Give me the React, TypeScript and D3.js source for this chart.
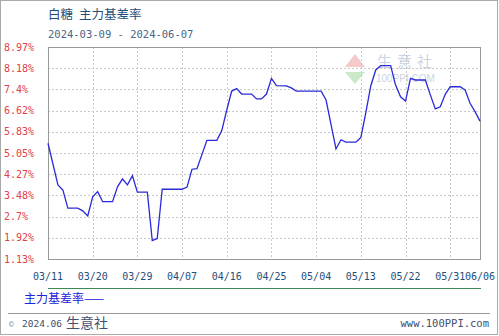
import React from "react";
import * as d3 from "d3";

const dates: string[] = [
  "2024-03-11","2024-03-13","2024-03-14","2024-03-15","2024-03-17","2024-03-18","2024-03-19",
  "2024-03-20","2024-03-21","2024-03-22","2024-03-24","2024-03-25","2024-03-26","2024-03-27",
  "2024-03-28","2024-03-29","2024-03-31","2024-04-01","2024-04-02","2024-04-03","2024-04-07",
  "2024-04-08","2024-04-09","2024-04-10","2024-04-12","2024-04-14","2024-04-15","2024-04-16",
  "2024-04-17","2024-04-18","2024-04-19","2024-04-21","2024-04-22","2024-04-23","2024-04-24",
  "2024-04-25","2024-04-26","2024-04-28","2024-04-29","2024-04-30","2024-05-05","2024-05-06",
  "2024-05-07","2024-05-08","2024-05-09","2024-05-10","2024-05-12","2024-05-13","2024-05-14",
  "2024-05-15","2024-05-16","2024-05-17","2024-05-19","2024-05-20","2024-05-21","2024-05-22",
  "2024-05-23","2024-05-24","2024-05-26","2024-05-27","2024-05-28","2024-05-29","2024-05-30",
  "2024-05-31","2024-06-02","2024-06-03","2024-06-04","2024-06-05","2024-06-06",
];
const values: number[] = [
  5.41,3.87,3.68,3.01,3.01,2.91,2.72,
  3.43,3.62,3.25,3.25,3.80,4.09,3.87,
  4.21,3.60,3.60,1.81,1.89,3.71,3.71,
  3.79,4.45,4.47,5.52,5.52,5.88,6.64,
  7.34,7.43,7.23,7.23,7.05,7.05,7.23,
  7.81,7.54,7.53,7.46,7.34,7.34,7.01,
  6.10,5.20,5.54,5.45,5.45,5.62,6.53,
  7.53,8.12,8.28,8.28,7.56,7.13,6.97,
  7.81,7.75,7.75,7.20,6.68,6.76,7.22,
  7.50,7.50,7.38,6.89,6.58,6.23,
];
const yTicks: number[] = [8.97, 8.18, 7.4, 6.62, 5.83, 5.05, 4.27, 3.48, 2.7, 1.92, 1.13];
const xTickLabels: string[] = ["03/11","03/20","03/29","04/07","04/16","04/25","05/04","05/13","05/22","05/31","06/06"];

const W = 499, H = 336;
const L = 48, R = 480, T = 47, B = 259;
const parse = d3.timeParse("%Y-%m-%d");

export default function App() {
  const data = dates.map((d, i) => ({ date: parse(d) as Date, v: values[i] }));
  const x = d3.scaleTime()
    .domain([parse("2024-03-11") as Date, parse("2024-06-06") as Date])
    .range([L, R]);
  const y = d3.scaleLinear().domain([1.13, 8.97]).range([B, T]);
  const line = d3.line<{ date: Date; v: number }>()
    .x(d => x(d.date))
    .y(d => y(d.v));
  const xTicks = xTickLabels.map(s => parse("2024-" + s.replace("/", "-")) as Date);
  const mono = "'DejaVu Sans Mono', monospace";
  const cjk = "'Noto Sans CJK SC', sans-serif";

  return (
    <svg width={W} height={H} style={{ position: "absolute", left: 0, top: 0, background: "#fff" }}>
      <rect x={0.5} y={0.5} width={497} height={334} fill="#fff" stroke="#aaa" />
      <text x={48} y={19} fontFamily={cjk} fontSize={12.5} fill="#1f4e79">白糖</text>
      <text x={79} y={19} fontFamily={cjk} fontSize={12.5} fill="#1f4e79">主力基差率</text>
      <text x={48} y={38} fontFamily={mono} fontSize={10.5} fill="#4a6585">2024-03-09 - 2024-06-07</text>

      {/* watermark */}
      <g opacity={0.45}>
        <path d="M345,67 L355,54 L365,67 Z" fill="#e88a8a" />
        <path d="M345,72 L355,84 L365,72 Z" fill="#8ccf8c" />
        <text x={377} y={67} fontFamily={cjk} fontSize={15} fill="#8aa0c0" letterSpacing={5}>生意社</text>
        <text x={376} y={82} fontFamily="Arial, sans-serif" fontSize={10} fill="#8aa0c0">100PPI.COM</text>
      </g>

      {yTicks.map((t, i) => (
        <g key={"y" + i}>
          {i > 0 && i < yTicks.length - 1 && (
            <line x1={L} x2={R} y1={Math.round(y(t)) + 0.5} y2={Math.round(y(t)) + 0.5}
              stroke="#c8c8c8" strokeDasharray="2,2" />
          )}
          <text x={4} y={y(t)} dy="0.35em" fontFamily={mono} fontSize={10} fill="#e0404a">{t}%</text>
        </g>
      ))}
      {xTicks.map((d, i) => (
        <g key={"x" + i}>
          {i > 0 && i < xTicks.length - 1 && (
            <line x1={Math.round(x(d)) + 0.5} x2={Math.round(x(d)) + 0.5} y1={T} y2={B}
              stroke="#c8c8c8" strokeDasharray="2,2" />
          )}
          <text x={x(d)} y={276} dy="0.35em" textAnchor="middle" fontFamily={mono} fontSize={10} fill="#1f4e79">
            {xTickLabels[i]}
          </text>
        </g>
      ))}
      <rect x={L + 0.5} y={T + 0.5} width={R - L} height={B - T} fill="none" stroke="#999" />
      <path d={line(data) || ""} fill="none" stroke="#2a2ad8" strokeWidth={1.3} />

      <line x1={48} x2={481} y1={288.5} y2={288.5} stroke="#3a8a5a" />
      <text x={24} y={303} fontFamily={cjk} fontSize={12} fill="#2020e0">主力基差率——</text>
      <line x1={8} x2={490} y1={313.5} y2={313.5} stroke="#999" />
      <text x={9} y={327} fontFamily={mono} fontSize={8} fill="#8090a0">©</text>
      <text x={22} y={327} fontFamily={mono} fontSize={9.5} fill="#405070">2024.06</text>
      <text x={66} y={327.5} fontFamily={cjk} fontSize={14} fill="#405070">生意社</text>
      <text x={489} y={327} textAnchor="end" fontFamily={mono} fontSize={10.5} fill="#405070">www.100PPI.com</text>
    </svg>
  );
}
